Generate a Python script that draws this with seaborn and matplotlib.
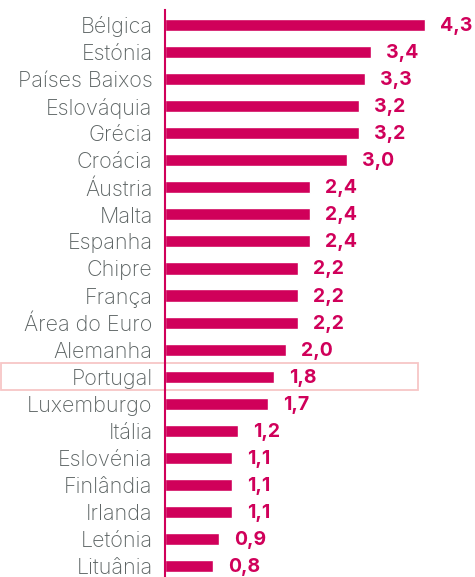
import matplotlib
matplotlib.use("Agg")
import matplotlib.pyplot as plt
import matplotlib.transforms as mtransforms
from matplotlib.patches import Rectangle
import seaborn as sns
import pandas as pd

paises = ["Bélgica", "Estónia", "Países Baixos", "Eslováquia", "Grécia", "Croácia",
          "Áustria", "Malta", "Espanha", "Chipre", "França", "Área do Euro", "Alemanha",
          "Portugal", "Luxemburgo", "Itália", "Eslovénia", "Finlândia", "Irlanda",
          "Letónia", "Lituânia"]
valores = [4.3, 3.4, 3.3, 3.2, 3.2, 3.0, 2.4, 2.4, 2.4, 2.2, 2.2, 2.2, 2.0,
           1.8, 1.7, 1.2, 1.1, 1.1, 1.1, 0.9, 0.8]
destaque = "Portugal"

cor = "#D0005A"
cinza = "#5B6262"

sns.set_theme(style="white")
plt.rcParams['font.family'] = ['Inter', 'DejaVu Sans']

df = pd.DataFrame({"pais": paises, "valor": valores})

fig = plt.figure(figsize=(4.75, 5.77), dpi=100)
ax = fig.add_axes([165 / 475, 0.0, 310 / 475, 1 - 10 / 577])

sns.barplot(data=df, x="valor", y="pais", color=cor, saturation=1, width=0.45, ax=ax)

ax.set_xlim(0, 5.12)
ax.set_ylim(20.4, -0.55)

for i, v in enumerate(valores):
    ax.annotate(f"{v:.1f}".replace(".", ","), xy=(v, i), xytext=(15, -1),
                textcoords="offset pixels",
                ha="left", va="center", color=cor, fontsize=14, fontweight="bold")

ax.set_xlabel("")
ax.set_ylabel("")
ax.set_xticks([])
ax.tick_params(axis="y", length=0, pad=9, labelsize=15.5, labelcolor=cinza)
for lbl in ax.get_yticklabels():
    lbl.set_fontweight("light")
for s in ["top", "right", "bottom"]:
    ax.spines[s].set_visible(False)
ax.spines["left"].set_color(cor)
ax.spines["left"].set_linewidth(1.5)
ax.spines["left"].set_zorder(5)

# caixa de destaque para Portugal
k = paises.index(destaque)
trans = mtransforms.blended_transform_factory(fig.transFigure, ax.transData)
ax.add_patch(Rectangle((0.003, k - 0.5), 418 / 475 - 0.003, 1.0, transform=trans,
                       fill=False, edgecolor="#F7C6C6", linewidth=1.3, clip_on=False, zorder=1))

fig.savefig("out.png", dpi=100)
